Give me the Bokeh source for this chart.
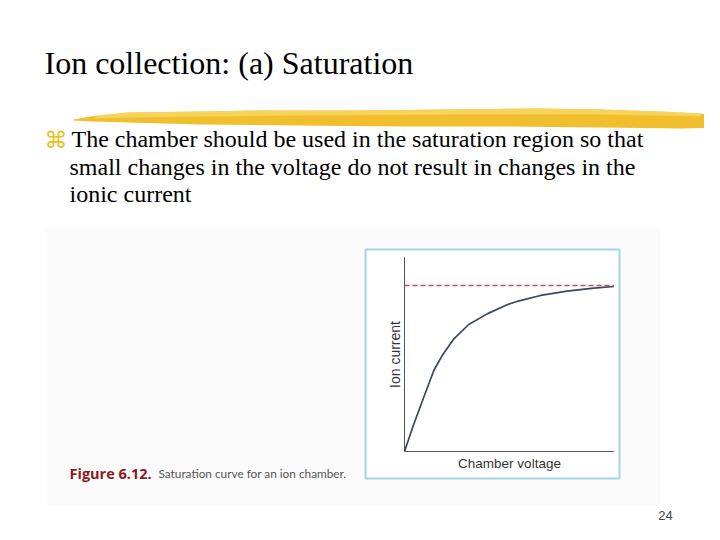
import math
from bokeh.plotting import figure
from bokeh.models import Range1d, ColumnDataSource
from bokeh.core.properties import value
from bokeh.embed import file_html
from bokeh.resources import INLINE

# ---------------- data ----------------
title_text = "Ion collection: (a) Saturation"
bullet_lines = [
    "The chamber should be used in the saturation region so that",
    "small changes in the voltage do not result in changes in the",
    "ionic current",
]
x_label = "Chamber voltage"
y_label = "Ion current"
caption_bold = "Figure 6.12."
caption_rest = "Saturation curve for an ion chamber."
page_number = "24"

voltage = [0, 4.5, 9.2, 14.0, 18.0, 23.6, 30.7, 39.5, 49.0, 53.8, 65.0, 77.7, 90.4, 100]
current = [0, 16.7, 32.7, 48.8, 57.8, 67.9, 76.5, 82.9, 88.4, 90.4, 94.0, 96.6, 98.4, 99.4]
saturation_level = 100
x_axis_max = 100
y_axis_max = 117

# ---------------- layout (page pixels) ----------------
W, H = 704, 524
PX0, PY0 = 0, 0                      # page offset of the figure
ORIGIN_X, ORIGIN_Y = 404.0, 451.0    # inner chart origin on page
PX_PER_V = 209.3 / 100               # px per voltage unit
PX_PER_I = 166.0 / 100               # px per current unit

p = figure(width=W, height=H, output_backend="svg", toolbar_location=None,
           x_range=Range1d(PX0, PX0 + W), y_range=Range1d(PY0 + H, PY0),
           x_axis_location=None, y_axis_location=None, min_border=0)
p.grid.visible = False
p.outline_line_color = None
p.background_fill_color = "white"
p.border_fill_color = "white"

# inner chart ranges mapped through the frame
v_start = 0 - (ORIGIN_X - PX0) / PX_PER_V
v_end = 0 + (PX0 + W - ORIGIN_X) / PX_PER_V
i_start = 0 - (PY0 + H - ORIGIN_Y) / PX_PER_I
i_end = 0 + (ORIGIN_Y - PY0) / PX_PER_I
p.extra_x_ranges = {"v": Range1d(v_start, v_end)}
p.extra_y_ranges = {"i": Range1d(i_start, i_end)}

# title
p.text(x=[44], y=[62], text=[title_text], text_font=value("Liberation Serif"),
       text_font_size="32px", text_color="black", text_baseline="middle")

# yellow brush stroke
top = [(73, 119), (90, 116), (127, 112), (200, 111), (260, 110), (350, 110), (450, 109),
       (540, 108), (600, 109), (660, 111), (700, 113), (720, 116)]
bot = [(720, 127), (680, 128), (600, 127), (500, 126), (400, 126), (300, 125), (200, 124),
       (127, 122), (90, 121), (73, 120)]
poly = top + bot
p.patch([q[0] for q in poly], [q[1] for q in poly], fill_color="#F1BF2E", line_color=None)
top2 = [(95, 115), (127, 112), (200, 111), (260, 110), (350, 110), (450, 109), (540, 108),
        (600, 109), (660, 111), (700, 113)]
bot2 = [(700, 116), (600, 114), (450, 114), (300, 115), (200, 116), (127, 117), (95, 118)]
poly2 = top2 + bot2
p.patch([q[0] for q in poly2], [q[1] for q in poly2], fill_color="#F8D867",
        fill_alpha=0.8, line_color=None)

# bullet
p.text(x=[44], y=[139], text=["\u2318"], text_font=value("DejaVu Sans"),
       text_font_size="23px", text_color="#E8C020", text_baseline="middle")
p.text(x=[71, 69, 69], y=[138.5, 166, 193.5], text=bullet_lines,
       text_font=value("Liberation Serif"), text_font_size="24px",
       text_color="black", text_baseline="middle")

# picture background and inner frame
p.quad(left=[45], right=[660], top=[228], bottom=[505], fill_color="#FBFBFB", line_color=None)
p.quad(left=[365], right=[619], top=[249], bottom=[478], fill_color="white",
       line_color="#A6D3E8", line_width=2)

# inner chart axes
p.segment(x0=[0, 0], y0=[0, 0], x1=[x_axis_max, 0], y1=[0, y_axis_max],
          line_color="#555555", line_width=1, x_range_name="v", y_range_name="i")
# saturation level
p.line(x=[0, x_axis_max], y=[saturation_level, saturation_level], line_color="#C8505F",
       line_width=1.7, line_dash="5 3", x_range_name="v", y_range_name="i")
# curve
src = ColumnDataSource(dict(v=voltage, i=current))
p.line(x="v", y="i", source=src, line_color="#3A4859", line_width=1.7,
       x_range_name="v", y_range_name="i")

# axis labels
p.text(x=[509], y=[463], text=[x_label], text_font=value("Liberation Sans"),
       text_font_size="13.5px", text_color="#333333", text_align="center",
       text_baseline="middle")
p.text(x=[394], y=[354], text=[y_label], text_font=value("Liberation Sans"),
       text_font_size="14px", text_color="#333333", text_align="center",
       text_baseline="middle", angle=math.pi / 2)

# caption
p.text(x=[69], y=[473], text=[caption_bold], text_font=value("Open Sans"),
       text_font_size="14.5px", text_font_style="bold", text_color="#8B1A24",
       text_baseline="middle")
p.text(x=[158], y=[473], text=[caption_rest], text_font=value("Lato"),
       text_font_size="11.8px", text_color="#555555", text_baseline="middle")

# page number
p.text(x=[665], y=[515], text=[page_number], text_font=value("Liberation Sans"),
       text_font_size="13px", text_color="#444444", text_align="center",
       text_baseline="middle")

open("out.html", "w").write(file_html(p, INLINE))
